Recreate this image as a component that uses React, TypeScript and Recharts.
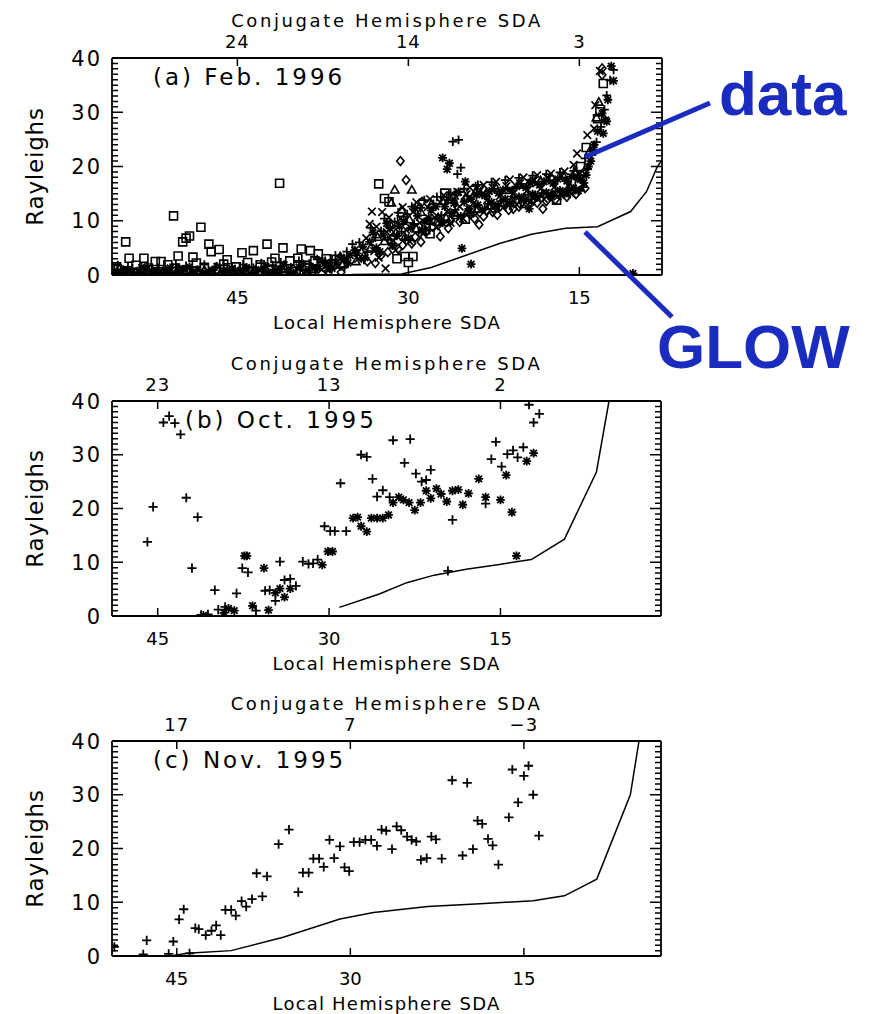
import React from 'react';
import { ComposedChart, Scatter, Line, XAxis, YAxis } from 'recharts';

type Pt = [number, number];

const INK = '#000';
const BLUE = '#1a2bbf';
const FONT = '"DejaVu Sans", sans-serif';

// ---- axis ticks -------------------------------------------------------
const localSdaTicks = [45, 30, 15];
const rayleighMajor = [0, 10, 20, 30, 40];
const rayleighMinor = [
  0, 1, 2, 3, 4, 5, 6, 7, 8, 9, 10, 11, 12, 13, 14, 15, 16, 17, 18, 19, 20,
  21, 22, 23, 24, 25, 26, 27, 28, 29, 30, 31, 32, 33, 34, 35, 36, 37, 38, 39, 40,
];
const febConjugate = ['24', '14', '3'];
const octConjugate = ['23', '13', '2'];
const novConjugate = ['17', '7', '\u22123'];

const febDomain: Pt = [7.75, 56];
const octDomain: Pt = [0.95, 49];
const novDomain: Pt = [3.15, 50.6];

// ---- (a) Feb. 1996 : [local SDA, Rayleighs] by plotting symbol ---------
const febPlus: Pt[] = [
  [55.8, 0.9], [55.5, 1.8], [55.0, 0.3], [54.6, 1.5], [54.2, 1.2], [53.7, 0.2], [53.5, 0.6], [52.9, 1.7],
  [52.7, 0.2], [52.0, 1.3], [51.9, 1.0], [51.2, 0.2], [51.0, 0.5], [50.4, 2.0], [50.3, 1.4], [49.5, 1.7],
  [49.4, 0.3], [48.7, 0.2], [48.6, 0.9], [47.9, 1.9], [47.8, 0.4], [47.0, 0.2], [46.9, 1.5], [46.2, 1.8],
  [46.1, 0.6], [45.4, 0.2], [45.2, 1.1], [44.5, 1.9], [44.4, 0.3], [43.7, 0.4], [43.6, 1.3], [42.9, 2.2],
  [42.7, 0.7], [42.0, 0.3], [41.9, 1.8], [41.2, 2.3], [41.1, 0.5], [40.4, 0.3], [40.3, 1.4], [39.6, 2.6],
  [39.5, 0.9], [38.8, 0.5], [38.7, 2.1], [38.0, 2.9], [37.9, 1.6], [37.3, 2.6], [37.2, 0.8], [36.7, 2.8],
  [36.4, 3.6], [36.0, 3.5], [35.6, 1.5], [35.4, 4.3], [34.9, 5.7], [34.3, 6.0], [33.9, 2.8], [33.6, 4.2],
  [33.3, 8.7], [32.9, 6.9], [32.7, 4.6], [32.4, 8.1], [32.1, 10.4], [31.8, 6.5], [31.5, 5.7], [31.2, 9.8],
  [30.9, 11.5], [30.6, 8.0], [30.3, 6.6], [30.1, 11.2], [29.7, 12.6], [29.5, 9.4], [29.1, 7.9], [28.9, 12.4],
  [28.6, 13.8], [28.4, 10.2], [28.1, 9.4], [27.8, 13.1], [27.5, 14.4], [27.1, 11.0], [26.9, 9.8], [26.5, 13.8],
  [26.3, 15.2], [26.1, 24.6], [25.9, 12.0], [25.7, 18.6], [25.7, 10.9], [25.6, 24.9], [25.4, 19.8], [25.1, 15.9],
  [24.8, 14.6], [24.5, 11.6], [24.2, 12.6], [24.1, 16.4], [24.0, 15.1], [23.9, 16.6], [23.6, 15.2], [23.3, 12.1],
  [23.0, 13.1], [22.7, 17.1], [22.5, 15.9], [22.1, 12.8], [21.9, 13.6], [21.5, 17.5], [21.3, 16.0], [20.9, 13.4],
  [20.7, 14.2], [20.3, 17.9], [20.1, 16.8], [19.7, 13.9], [19.5, 14.8], [19.1, 18.3], [18.9, 17.2], [18.5, 14.4],
  [18.3, 15.1], [17.9, 18.6], [17.7, 17.5], [17.3, 14.8], [17.1, 15.4], [16.7, 18.9], [16.5, 18.0], [16.1, 15.3],
  [15.9, 15.8], [15.5, 19.2], [15.3, 17.9], [14.9, 15.7], [14.7, 16.2], [14.5, 21.5], [14.3, 19.5], [13.9, 22.1],
  [13.5, 24.5], [13.1, 27.3], [12.8, 30.5], [12.6, 33.1], [12.3, 35.9], [12.0, 37.8],
];
const febStar: Pt[] = [
  [55.9, 0.2], [55.4, 0.4], [55.0, 1.0], [54.6, 0.8], [54.2, 0.5], [53.8, 0.2], [53.4, 1.4], [53.0, 1.0],
  [52.5, 0.8], [52.1, 0.5], [51.7, 0.2], [51.3, 0.9], [50.9, 1.3], [50.5, 0.2], [50.1, 0.7], [49.7, 1.1],
  [49.2, 1.5], [48.9, 0.6], [48.5, 1.0], [48.0, 0.2], [47.6, 0.3], [47.2, 0.9], [46.8, 1.6], [46.3, 0.4],
  [45.9, 0.8], [45.5, 1.2], [45.1, 0.2], [44.6, 0.6], [44.2, 1.4], [43.8, 0.2], [43.4, 0.7], [42.9, 1.0],
  [42.5, 1.6], [42.1, 0.4], [41.7, 0.9], [41.3, 1.1], [40.9, 1.9], [40.5, 0.6], [40.1, 0.4], [39.6, 1.5],
  [39.2, 2.0], [38.8, 0.8], [38.4, 1.4], [38.0, 1.2], [37.5, 2.4], [37.1, 1.8], [36.7, 1.2], [36.3, 2.3],
  [35.9, 3.3], [35.6, 2.9], [35.3, 2.2], [35.1, 3.6], [34.7, 4.6], [34.5, 4.0], [34.0, 5.2], [33.8, 3.2],
  [33.4, 6.1], [33.1, 7.8], [32.8, 5.0], [32.5, 4.3], [32.2, 7.4], [31.9, 9.5], [31.6, 8.6], [31.4, 5.4],
  [31.0, 7.2], [30.8, 9.0], [30.4, 9.9], [30.0, 6.8], [29.8, 8.7], [29.4, 12.3], [29.2, 10.9], [28.8, 8.3],
  [28.6, 9.8], [28.2, 10.5], [28.0, 11.9], [27.6, 12.6], [27.4, 10.7], [27.0, 21.6], [27.0, 9.6], [26.8, 12.6],
  [26.6, 19.5], [26.4, 20.6], [26.2, 11.4], [26.0, 13.2], [25.6, 15.3], [25.4, 10.8], [25.3, 4.9], [25.1, 13.5],
  [25.0, 17.2], [24.7, 12.2], [24.5, 2.0], [24.5, 14.0], [24.0, 14.8], [23.9, 12.9], [23.5, 12.0], [23.3, 14.6],
  [22.9, 15.4], [22.7, 13.4], [22.3, 12.6], [22.1, 15.1], [21.7, 15.7], [21.5, 14.0], [21.1, 13.2], [20.9, 15.6],
  [20.5, 16.3], [20.3, 14.4], [19.9, 13.8], [19.7, 16.1], [19.4, 12.2], [19.3, 17.0], [19.1, 14.9], [18.7, 14.3],
  [18.5, 16.6], [18.1, 17.2], [17.9, 15.2], [17.5, 14.6], [17.3, 16.9], [16.9, 17.7], [16.7, 15.6], [16.3, 15.0],
  [16.1, 17.3], [15.7, 18.1], [15.5, 16.0], [15.1, 15.5], [14.9, 17.6], [14.6, 17.0], [14.4, 18.4], [14.2, 20.0],
  [14.0, 21.0], [13.8, 23.0], [13.7, 24.0], [13.4, 26.5], [13.0, 29.8], [12.9, 26.1], [12.7, 28.6], [12.6, 28.3],
  [12.5, 32.3], [12.2, 38.5], [12.0, 35.8], [10.3, 0.3],
];
const febCross: Pt[] = [
  [55.1, 0.2], [53.6, 0.7], [52.3, 0.3], [50.9, 0.8], [49.3, 0.2], [47.6, 0.7], [46.0, 0.2], [44.2, 0.8],
  [42.5, 0.3], [40.8, 0.9], [39.2, 0.4], [37.6, 1.0], [36.2, 1.5], [34.4, 3.0], [33.7, 6.8], [33.4, 9.4],
  [33.2, 11.7], [33.0, 4.4], [32.8, 8.9], [32.6, 3.2], [32.3, 11.6], [32.0, 1.2], [31.9, 7.9], [31.7, 10.6],
  [31.3, 6.3], [31.1, 4.6], [30.7, 10.4], [30.5, 12.5], [30.2, 8.3], [29.9, 6.2], [29.6, 11.6], [29.3, 13.4],
  [29.0, 9.6], [28.7, 7.6], [28.3, 12.5], [28.1, 14.0], [27.7, 10.6], [27.5, 8.8], [27.2, 13.4], [26.9, 14.7],
  [26.6, 11.7], [26.3, 9.6], [26.0, 14.0], [25.7, 15.3], [25.5, 12.6], [25.2, 10.4], [24.9, 14.9], [24.6, 16.1],
  [24.3, 13.2], [24.0, 11.3], [23.7, 15.6], [23.4, 16.6], [23.1, 13.8], [22.8, 11.9], [22.6, 16.1], [22.3, 17.2],
  [22.0, 14.5], [21.7, 12.4], [21.4, 16.4], [21.1, 17.6], [20.8, 15.0], [20.5, 13.0], [20.2, 16.9], [19.9, 18.0],
  [19.6, 15.5], [19.3, 13.5], [19.0, 17.4], [18.7, 18.4], [18.4, 15.9], [18.1, 14.0], [17.8, 17.9], [17.5, 18.7],
  [17.2, 16.2], [16.9, 14.5], [16.6, 18.2], [16.3, 19.1], [16.0, 16.5], [15.7, 15.0], [15.5, 20.3], [15.2, 22.4],
  [15.0, 18.8], [14.3, 25.8], [13.7, 27.0], [13.6, 31.3], [13.2, 37.6],
];
const febDiamond: Pt[] = [
  [55.3, 1.2], [54.4, 0.3], [53.2, 0.9], [51.5, 0.4], [50.1, 1.0], [48.4, 0.3], [46.8, 1.0], [45.3, 0.4],
  [43.4, 0.9], [41.7, 0.3], [40.1, 1.1], [38.4, 0.5], [36.9, 1.3], [35.9, 0.5], [33.6, 2.5], [32.9, 2.2],
  [32.4, 3.6], [31.8, 4.2], [31.4, 6.9], [30.9, 4.8], [30.7, 21.0], [30.5, 5.5], [30.2, 17.5], [29.7, 5.8],
  [29.4, 7.0], [28.9, 6.1], [28.8, 13.5], [28.4, 8.0], [27.9, 8.9], [27.4, 9.2], [27.2, 7.1], [26.5, 8.6],
  [26.3, 10.0], [25.5, 9.8], [24.6, 11.2], [24.2, 10.4], [23.8, 9.3], [23.4, 10.8], [23.1, 11.8], [22.6, 11.6],
  [22.2, 11.1], [21.6, 13.0], [21.2, 12.0], [20.8, 12.2], [20.3, 12.6], [20.0, 13.5], [19.5, 13.0], [19.0, 13.9],
  [18.7, 13.3], [18.2, 12.2], [17.9, 13.6], [17.5, 14.5], [17.1, 13.9], [16.4, 15.0], [16.1, 14.4], [15.6, 15.5],
  [15.3, 14.9], [14.8, 18.5], [14.5, 16.0], [13.0, 36.9], [13.0, 38.1],
];
const febTriangle: Pt[] = [
  [54.7, 0.6], [52.9, 0.2], [51.2, 0.7], [49.6, 0.3], [47.9, 0.9], [46.5, 0.3], [44.8, 0.9], [43.0, 0.3],
  [41.4, 0.8], [39.9, 0.3], [38.3, 1.0], [37.0, 0.4], [35.8, 1.9], [34.6, 2.5], [33.9, 3.6], [33.3, 5.0],
  [32.7, 7.0], [32.1, 6.2], [31.6, 9.4], [31.5, 13.3], [31.2, 15.7], [31.1, 7.8], [30.6, 12.0], [30.3, 7.0],
  [29.9, 10.2], [29.7, 15.7], [29.3, 8.5], [28.9, 11.6], [28.5, 8.2], [28.0, 13.0], [27.5, 9.8], [27.0, 13.6],
  [26.7, 10.6], [26.0, 14.6], [25.8, 11.0], [25.0, 14.2], [24.8, 11.9], [24.1, 15.4], [23.9, 12.2], [23.2, 15.0],
  [22.9, 12.8], [22.3, 16.0], [21.9, 13.3], [21.4, 15.6], [20.9, 13.8], [20.4, 16.6], [19.9, 14.2], [19.4, 16.9],
  [18.9, 14.6], [18.4, 17.4], [17.9, 14.9], [17.4, 17.8], [16.9, 15.2], [16.4, 18.3], [15.8, 16.2], [15.4, 18.9],
  [14.6, 19.0], [14.1, 22.8], [13.5, 29.0], [13.3, 31.9],
];
const febSquare: Pt[] = [
  [55.6, 1.5], [54.8, 6.1], [54.5, 3.1], [53.9, 1.8], [53.2, 3.1], [52.8, 1.3], [52.2, 2.5], [51.7, 2.5],
  [51.1, 1.9], [50.6, 10.9], [50.2, 3.5], [49.8, 6.1], [49.5, 6.8], [49.2, 7.2], [48.9, 3.3], [48.6, 2.2],
  [48.2, 8.8], [47.9, 1.4], [47.5, 5.7], [47.3, 4.3], [46.6, 4.7], [46.2, 2.0], [45.9, 2.8], [45.1, 1.5],
  [44.6, 4.1], [44.1, 2.3], [43.6, 4.5], [43.0, 1.9], [42.4, 5.7], [42.0, 2.4], [41.7, 3.1], [41.3, 16.9],
  [41.0, 5.0], [40.4, 2.6], [39.7, 3.1], [39.4, 4.8], [39.0, 1.8], [38.6, 4.5], [38.2, 2.6], [37.9, 3.9],
  [37.2, 3.0], [36.5, 2.1], [32.6, 16.8], [32.1, 14.1], [31.7, 13.5], [31.0, 3.0], [30.6, 10.1], [30.3, 3.4],
  [30.0, 2.3], [29.6, 3.4], [28.1, 7.6], [26.8, 15.1], [26.3, 14.1], [25.0, 10.3], [22.4, 12.4], [19.8, 13.2],
  [17.0, 13.8], [15.0, 16.8], [14.9, 20.0], [14.4, 23.5], [13.4, 28.8], [13.2, 30.1], [12.9, 35.3],
];
const febGlow: Pt[] = [
  [35.0, 0.1], [30.6, 0.2], [28.0, 1.4], [25.0, 3.6], [22.0, 5.8], [19.2, 7.5], [16.2, 8.6],
  [13.4, 8.9], [10.5, 11.7], [9.1, 15.4], [8.2, 19.8], [7.75, 21.2],
];

// ---- (b) Oct. 1995 ----------------------------------------------------
const octPlus: Pt[] = [
  [45.9, 13.8], [45.4, 20.3], [44.5, 36.0], [44.0, 37.2], [43.5, 35.9], [43.0, 33.8], [42.5, 22.0], [42.0, 8.9],
  [41.5, 18.4], [41.2, 0.2], [40.6, 0.3], [40.0, 4.8], [39.7, 1.2], [39.1, 1.7], [38.1, 4.2], [37.6, 8.9],
  [37.1, 8.1], [36.4, 1.0], [35.6, 4.7], [35.2, 4.8], [34.7, 2.8], [34.3, 10.1], [33.9, 6.7], [33.4, 6.9],
  [32.9, 5.6], [32.3, 10.1], [31.8, 9.7], [31.4, 9.8], [31.0, 10.5], [30.4, 16.7], [29.9, 15.8], [29.5, 15.8],
  [29.0, 24.7], [28.5, 15.8], [27.2, 30.0], [26.7, 29.6], [26.2, 25.5], [25.8, 22.2], [25.3, 23.4], [24.7, 22.1],
  [24.4, 32.7], [23.4, 28.5], [22.9, 32.9], [22.4, 26.5], [21.9, 25.0], [21.5, 25.3], [21.1, 27.2], [19.6, 8.4],
  [19.2, 17.9], [16.3, 20.9], [15.8, 29.2], [15.4, 32.4], [14.9, 27.8], [14.4, 30.1], [13.9, 30.8], [13.5, 29.5],
  [13.0, 31.4], [12.5, 39.3], [12.1, 36.0], [11.6, 37.6],
];
const octStar: Pt[] = [
  [41.0, 0.1], [39.2, 0.6], [38.8, 1.4], [38.3, 1.0], [37.4, 11.2], [37.2, 11.2], [36.7, 1.9], [35.7, 8.9],
  [35.3, 1.1], [34.7, 4.3], [34.3, 5.1], [33.9, 3.5], [33.4, 5.1], [30.6, 9.5], [30.1, 12.0], [29.7, 12.0],
  [27.9, 18.2], [27.5, 18.4], [27.2, 16.7], [26.7, 15.7], [26.3, 18.2], [25.8, 18.2], [25.3, 18.2], [24.8, 18.8],
  [24.4, 21.1], [23.9, 22.1], [23.5, 21.6], [23.0, 21.1], [22.5, 19.7], [22.0, 21.1], [21.5, 23.3], [21.1, 21.9],
  [20.6, 23.7], [20.2, 22.7], [19.7, 21.3], [19.2, 23.3], [18.7, 23.5], [18.3, 20.7], [17.8, 22.8], [16.9, 25.5],
  [16.3, 22.1], [15.0, 21.6], [14.5, 26.2], [14.0, 19.3], [13.6, 11.2], [12.7, 28.8], [12.1, 30.3],
];
const octGlow: Pt[] = [
  [29.1, 1.6], [25.6, 4.1], [23.2, 6.2], [20.8, 7.6], [18.0, 8.7], [15.1, 9.6], [12.3, 10.5],
  [9.4, 14.3], [6.6, 26.8], [5.5, 40.0],
];

// ---- (c) Nov. 1995 ----------------------------------------------------
const novPlus: Pt[] = [
  [50.4, 1.7], [47.9, 0.3], [47.6, 2.9], [45.7, 0.4], [45.3, 2.7], [44.8, 6.8], [44.4, 8.7], [43.9, 0.5],
  [43.4, 5.2], [43.1, 5.0], [42.5, 3.9], [42.0, 4.7], [41.6, 5.7], [41.2, 3.9], [40.8, 8.6], [40.3, 8.6],
  [39.9, 7.5], [39.4, 10.2], [39.0, 9.2], [38.5, 10.6], [38.1, 15.4], [37.6, 11.1], [37.2, 14.8], [36.2, 20.8],
  [35.3, 23.5], [34.5, 11.9], [34.1, 15.5], [33.6, 15.5], [33.2, 18.1], [32.7, 18.1], [32.3, 16.6], [31.8, 21.6],
  [31.4, 18.2], [30.9, 20.4], [30.5, 16.5], [30.1, 15.8], [29.7, 21.2], [29.2, 21.2], [28.7, 21.6], [28.2, 21.6],
  [27.7, 20.5], [27.3, 23.5], [26.9, 23.3], [26.4, 19.9], [26.0, 24.1], [25.6, 23.4], [25.1, 22.2], [24.7, 21.6],
  [24.3, 21.3], [23.9, 17.9], [23.4, 18.2], [23.0, 22.2], [22.6, 21.7], [22.1, 18.1], [21.2, 32.7], [20.3, 18.7],
  [19.9, 32.2], [19.4, 19.9], [19.0, 25.2], [18.6, 24.6], [18.1, 21.8], [17.7, 20.6], [17.2, 17.0], [16.3, 25.8],
  [16.0, 34.7], [15.5, 28.6], [15.0, 33.5], [14.6, 35.4], [14.2, 30.0], [13.7, 22.4],
];
const novGlow: Pt[] = [
  [45.3, 0.1], [44.1, 0.5], [40.3, 1.0], [35.8, 3.5], [30.9, 6.9], [28.0, 8.1], [23.3, 9.2],
  [18.8, 9.7], [14.2, 10.3], [11.5, 11.2], [8.7, 14.3], [5.8, 30.0], [5.05, 40.0],
];

const rows = (pts: Pt[]) => pts.map(([sda, r]) => ({ sda, r }));

// ---- plotting symbols --------------------------------------------------
type PathFn = (x: number, y: number) => string;
const plusPath = (s: number): PathFn => (x, y) => `M${x - s},${y}H${x + s}M${x},${y - s}V${y + s}`;
const crossPath = (s: number): PathFn => (x, y) =>
  `M${x - s},${y - s}L${x + s},${y + s}M${x - s},${y + s}L${x + s},${y - s}`;
const starPath = (s: number): PathFn => (x, y) => plusPath(s)(x, y) + crossPath(s * 0.75)(x, y);
const diamondPath = (s: number): PathFn => (x, y) =>
  `M${x},${y - s}L${x + s * 0.85},${y}L${x},${y + s}L${x - s * 0.85},${y}Z`;
const trianglePath = (s: number): PathFn => (x, y) =>
  `M${x},${y - s}L${x + s},${y + s * 0.75}L${x - s},${y + s * 0.75}Z`;
const squarePath = (s: number): PathFn => (x, y) => `M${x - s},${y - s}H${x + s}V${y + s}H${x - s}Z`;

const marker = (draw: PathFn, width: number) => (p: any) =>
  p == null || p.cx == null || p.cy == null ? (
    <g />
  ) : (
    <path d={draw(Number(p.cx), Number(p.cy))} stroke={INK} strokeWidth={width} fill="none" />
  );

type Series = { key: string; data: Pt[]; shape: (p: any) => React.ReactElement };

const febSeries: Series[] = [
  { key: 'square', data: febSquare, shape: marker(squarePath(4), 1.6) },
  { key: 'diamond', data: febDiamond, shape: marker(diamondPath(4.4), 1.6) },
  { key: 'triangle', data: febTriangle, shape: marker(trianglePath(4.2), 1.6) },
  { key: 'cross', data: febCross, shape: marker(crossPath(3.8), 1.7) },
  { key: 'plus', data: febPlus, shape: marker(plusPath(4.4), 1.8) },
  { key: 'star', data: febStar, shape: marker(starPath(4.4), 1.8) },
];
const octSeries: Series[] = [
  { key: 'plus', data: octPlus, shape: marker(plusPath(4.6), 1.8) },
  { key: 'star', data: octStar, shape: marker(starPath(4.4), 1.8) },
];
const novSeries: Series[] = [{ key: 'plus', data: novPlus, shape: marker(plusPath(4.6), 1.8) }];

// ---- axis labels -------------------------------------------------------
const LABEL_GAP = 10;

const LeftTick = (p: any) => {
  const v = Number(p.payload.value);
  return (
    <text x={Number(p.x)} y={Number(p.y) + 7.6} textAnchor="end" fontFamily={FONT} fontSize={21} fill={INK} style={{ letterSpacing: '2px' }}>
      {v}
    </text>
  );
};

const BottomTick = (p: any) => (
  <text x={Number(p.x)} y={Number(p.y) + 28.5} textAnchor="middle" fontFamily={FONT} fontSize={18} fill={INK}>
    {p.payload.value}
  </text>
);

const topTick = (labels: string[]) => (p: any) => {
  const i = localSdaTicks.indexOf(Number(p.payload.value));
  return (
    <text x={Number(p.x)} y={Number(p.y) - 10} textAnchor="middle" fontFamily={FONT} fontSize={18} fill={INK} style={{ letterSpacing: '1px' }}>
      {labels[i]}
    </text>
  );
};

const bottomTitle = (p: any) => {
  const vb = p.viewBox;
  return (
    <text x={vb.x + vb.width / 2} y={vb.y + 53.7} textAnchor="middle" fontFamily={FONT} fontSize={18} fill={INK} style={{ letterSpacing: '1.2px' }}>
      Local Hemisphere SDA
    </text>
  );
};

const topTitle = (p: any) => {
  const vb = p.viewBox;
  return (
    <text x={vb.x + vb.width / 2} y={vb.y + vb.height - 30.7} textAnchor="middle" fontFamily={FONT} fontSize={18} fill={INK} style={{ letterSpacing: '2.6px' }}>
      Conjugate Hemisphere SDA
    </text>
  );
};

const leftTitle = (p: any) => {
  const vb = p.viewBox;
  const x = vb.x + vb.width - 68.7;
  const y = vb.y + vb.height / 2;
  return (
    <text x={x} y={y} transform={`rotate(-90 ${x} ${y})`} textAnchor="middle" fontFamily={FONT} fontSize={23} fill={INK} style={{ letterSpacing: '0.8px' }}>
      Rayleighs
    </text>
  );
};

// ---- panel layout ------------------------------------------------------
const CHART_W = 872;
const PLOT_LEFT = 112;
const TOP_AXIS_H = 40;
const BOTTOM_AXIS_H = 55;
const LEFT_AXIS_W = 80;
const RIGHT_AXIS_W = 10;
const R_MAX = 40;
const FRAME = { stroke: INK, strokeWidth: 1.8 };

type Frame = { top: number; height: number; plotTop: number; plotBottom: number; plotRight: number; domain: Pt };

const febFrame: Frame = { top: 0, height: 340, plotTop: 58, plotBottom: 275, plotRight: 662, domain: febDomain };
const octFrame: Frame = { top: 340, height: 340, plotTop: 61, plotBottom: 276, plotRight: 661, domain: octDomain };
const novFrame: Frame = { top: 680, height: 334, plotTop: 61, plotBottom: 276, plotRight: 661, domain: novDomain };

type PanelProps = { frame: Frame; conjugate: string[]; series: Series[]; glow: Pt[] };

function Panel({ frame, conjugate, series, glow }: PanelProps) {
  const { top, height, plotTop, plotBottom, plotRight, domain } = frame;
  const margin = {
    top: plotTop - TOP_AXIS_H,
    bottom: height - plotBottom - BOTTOM_AXIS_H,
    left: PLOT_LEFT - LEFT_AXIS_W,
    right: CHART_W - plotRight - RIGHT_AXIS_W,
  };
  return (
    <div style={{ position: 'absolute', left: 0, top }}>
      <ComposedChart width={CHART_W} height={height} margin={margin}>
        <XAxis
          xAxisId="b"
          dataKey="sda"
          type="number"
          domain={domain}
          reversed
          allowDataOverflow
          ticks={localSdaTicks}
          interval={0}
          tickSize={0}
          tickMargin={0}
          tickLine={false}
          axisLine={FRAME}
          height={BOTTOM_AXIS_H}
          tick={BottomTick}
          label={bottomTitle}
        />
        <XAxis
          xAxisId="t"
          dataKey="sda"
          orientation="top"
          type="number"
          domain={domain}
          reversed
          allowDataOverflow
          ticks={localSdaTicks}
          interval={0}
          tickSize={0}
          tickMargin={0}
          tickLine={false}
          axisLine={FRAME}
          height={TOP_AXIS_H}
          tick={topTick(conjugate)}
          label={topTitle}
        />
        <YAxis
          yAxisId="l"
          dataKey="r"
          type="number"
          domain={[0, R_MAX]}
          allowDataOverflow
          ticks={rayleighMajor}
          interval={0}
          tickSize={0}
          tickMargin={LABEL_GAP}
          tickLine={false}
          axisLine={FRAME}
          width={LEFT_AXIS_W}
          tick={LeftTick}
          label={leftTitle}
        />
        <YAxis
          yAxisId="r"
          orientation="right"
          type="number"
          domain={[0, R_MAX]}
          allowDataOverflow
          ticks={rayleighMajor}
          tick={false}
          tickLine={false}
          axisLine={FRAME}
          width={RIGHT_AXIS_W}
        />
        <Line
          xAxisId="b"
          yAxisId="l"
          data={rows(glow)}
          dataKey="r"
          type="linear"
          stroke={INK}
          strokeWidth={1.5}
          dot={false}
          activeDot={false}
          isAnimationActive={false}
        />
        {series.map((s) => (
          <Scatter
            key={s.key}
            xAxisId="b"
            yAxisId="l"
            data={rows(s.data)}
            dataKey="r"
            shape={s.shape}
            isAnimationActive={false}
          />
        ))}
      </ComposedChart>
    </div>
  );
}

// ---- inward frame ticks (drawn on the page layer above the charts) ------
const MINOR_LEN = 6;
const MAJOR_LEN = 11;
const X_TICK_LEN = 8;

function FrameTicks({ frame }: { frame: Frame }) {
  const { top, plotTop, plotBottom, plotRight, domain } = frame;
  const [lo, hi] = domain;
  const yTop = top + plotTop;
  const yBottom = top + plotBottom;
  const yOf = (v: number) => yTop + ((R_MAX - v) / R_MAX) * (yBottom - yTop);
  const xOf = (t: number) => PLOT_LEFT + ((hi - t) / (hi - lo)) * (plotRight - PLOT_LEFT);
  const len = (v: number) => (rayleighMajor.includes(v) ? MAJOR_LEN : MINOR_LEN);
  const left = rayleighMinor.map((v) => `M${PLOT_LEFT},${yOf(v)}h${len(v)}`).join('');
  const right = rayleighMinor.map((v) => `M${plotRight},${yOf(v)}h${-len(v)}`).join('');
  const bottom = localSdaTicks.map((t) => `M${xOf(t)},${yBottom}v${-X_TICK_LEN}`).join('');
  const topMarks = localSdaTicks.map((t) => `M${xOf(t)},${yTop}v${X_TICK_LEN}`).join('');
  return <path d={left + right + bottom + topMarks} stroke={INK} strokeWidth={1.5} fill="none" />;
}

const panelText = { fontFamily: FONT, fontSize: 23, fill: INK, style: { letterSpacing: '3px' } };
const callout = { fontFamily: '"Liberation Sans", Arial, sans-serif', fontSize: 62, fontWeight: 700, fill: BLUE };

export default function App() {
  return (
    <div style={{ position: 'absolute', left: 0, top: 0, width: 872, height: 1014, background: '#fff', overflow: 'hidden' }}>
      <Panel frame={febFrame} conjugate={febConjugate} series={febSeries} glow={febGlow} />
      <Panel frame={octFrame} conjugate={octConjugate} series={octSeries} glow={octGlow} />
      <Panel frame={novFrame} conjugate={novConjugate} series={novSeries} glow={novGlow} />
      <svg width={872} height={1014} style={{ position: 'absolute', left: 0, top: 0, pointerEvents: 'none' }}>
        <FrameTicks frame={febFrame} />
        <FrameTicks frame={octFrame} />
        <FrameTicks frame={novFrame} />
        <text x={153} y={85} {...panelText}>(a) Feb. 1996</text>
        <text x={185} y={428} {...panelText}>(b) Oct. 1995</text>
        <text x={153} y={768} {...panelText}>(c) Nov. 1995</text>
        <line x1={710} y1={103} x2={585} y2={157} stroke={BLUE} strokeWidth={5} />
        <line x1={585} y1={232} x2={672} y2={317} stroke={BLUE} strokeWidth={5} />
        <text x={719} y={115} {...callout}>data</text>
        <text x={657} y={368} {...callout}>GLOW</text>
      </svg>
    </div>
  );
}
